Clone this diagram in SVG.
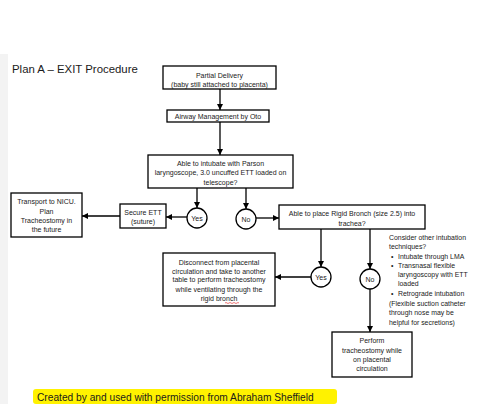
<svg xmlns="http://www.w3.org/2000/svg" width="480" height="409" viewBox="0 0 480 409">
<defs>
<marker id="ah" markerWidth="6" markerHeight="6" refX="6" refY="3" orient="auto" markerUnits="userSpaceOnUse">
<path d="M0,0 L6,3 L0,6 z" fill="#000"/>
</marker>
<style>
.box{fill:#fff;stroke:#000;stroke-width:1.3}
.t{font-family:"Liberation Sans",Arial,sans-serif;font-size:7px;fill:#1a1a1a;text-anchor:middle}
.l{font-family:"Liberation Sans",Arial,sans-serif;font-size:6.9px;fill:#1a1a1a}
.c{fill:none;stroke:#000;stroke-width:1.3;marker-end:url(#ah)}
</style>
</defs>
<rect x="0" y="0" width="480" height="409" fill="#fff"/>
<rect x="0" y="54" width="8" height="350" fill="#f3f3f3"/>
<text x="12" y="73" style="font-family:'Liberation Sans',Arial,sans-serif;font-size:11.4px;fill:#1a1a1a">Plan A – EXIT Procedure</text>

<g id="connectors">
<path class="c" d="M220,89 V110"/>
<path class="c" d="M220,122 V155"/>
<path class="c" d="M197,188 V208"/>
<path class="c" d="M246,188 V209"/>
<path class="c" d="M187,217 H166"/>
<path class="c" d="M120,216 H82"/>
<path class="c" d="M256,218 H279"/>
<path class="c" d="M321,229 V267"/>
<path class="c" d="M370,229 V269"/>
<path class="c" d="M311,277 H275"/>
<path class="c" d="M370,289 V332"/>
</g>

<g id="partial">
<rect class="box" x="163" y="66" width="113" height="23"/>
<text class="t" x="219.5" y="77.5">Partial Delivery</text>
<text class="t" x="219.5" y="86.5">(baby still attached to placenta)</text>
</g>
<g id="airway">
<rect class="box" x="167" y="110" width="102" height="12"/>
<text class="t" x="218" y="118.5">Airway Management by Oto</text>
</g>
<g id="intubate">
<rect class="box" x="148" y="155" width="145" height="33"/>
<text class="t" x="220.5" y="165.5">Able to intubate with Parson</text>
<text class="t" x="220.5" y="175">laryngoscope, 3.0 uncuffed ETT loaded on</text>
<text class="t" x="220.5" y="184.5">telescope?</text>
</g>
<g id="yes1">
<circle class="box" cx="197" cy="218" r="10"/>
<text class="t" x="197" y="220.5">Yes</text>
</g>
<g id="no1">
<circle class="box" cx="246" cy="219" r="10"/>
<text class="t" x="246" y="221.5">No</text>
</g>
<g id="secure">
<rect class="box" x="120" y="204" width="46" height="24"/>
<text class="t" x="143" y="214.5">Secure ETT</text>
<text class="t" x="143" y="223.5">(suture)</text>
</g>
<g id="transport">
<rect class="box" x="11" y="193" width="71" height="44"/>
<text class="t" x="46.5" y="203.5">Transport to NICU.</text>
<text class="t" x="46.5" y="213.5">Plan</text>
<text class="t" x="46.5" y="222.5">Tracheostomy in</text>
<text class="t" x="46.5" y="231.5">the future</text>
</g>
<g id="rigid">
<rect class="box" x="279" y="205" width="146" height="24"/>
<text class="t" x="352" y="215.5">Able to place Rigid Bronch (size 2.5) into</text>
<text class="t" x="352" y="225.5">trachea?</text>
</g>
<g id="yes2">
<circle class="box" cx="321" cy="277" r="10"/>
<text class="t" x="321" y="279.5">Yes</text>
</g>
<g id="no2">
<circle class="box" cx="370" cy="279" r="10"/>
<text class="t" x="370" y="281.5">No</text>
</g>
<g id="disconnect">
<rect class="box" x="163" y="253" width="112" height="53"/>
<text class="t" x="219" y="264.5">Disconnect from placental</text>
<text class="t" x="219" y="273.5">circulation and take to another</text>
<text class="t" x="219" y="282">table to perform tracheostomy</text>
<text class="t" x="219" y="291.5">while ventilating through the</text>
<text class="t" x="219" y="301">rigid bronch</text>
<path d="M225,303 q1,-1 2,0 t2,0 t2,0 t2,0 t2,0 t2,0 t2,0" fill="none" stroke="#e02020" stroke-width="0.6"/>
</g>
<g id="perform">
<rect class="box" x="332" y="332" width="80" height="45"/>
<text class="t" x="372" y="342.5">Perform</text>
<text class="t" x="372" y="352.5">tracheostomy while</text>
<text class="t" x="372" y="361.5">on placental</text>
<text class="t" x="372" y="370.5">circulation</text>
</g>
<g id="notes">
<text class="l" x="389" y="239.5">Consider other intubation</text>
<text class="l" x="389" y="249">techniques?</text>
<text class="l" x="391" y="259">•</text><text class="l" x="398" y="259">Intubate through LMA</text>
<text class="l" x="391" y="268">•</text><text class="l" x="398" y="268">Transnasal flexible</text>
<text class="l" x="398" y="277">laryngoscopy with ETT</text>
<text class="l" x="398" y="286">loaded</text>
<text class="l" x="391" y="295.5">•</text><text class="l" x="398" y="295.5">Retrograde intubation</text>
<text class="l" x="389" y="305.5">(Flexible suction catheter</text>
<text class="l" x="389" y="315">through nose may be</text>
<text class="l" x="389" y="324.5">helpful for secretions)</text>
</g>
<g id="credit">
<rect x="33" y="389" width="304" height="15" rx="3" fill="#fff200"/>
<text x="37" y="400.5" style="font-family:'Liberation Sans',Arial,sans-serif;font-size:10.2px;fill:#1a1a1a">Created by and used with permission from Abraham Sheffield</text>
</g>
</svg>
